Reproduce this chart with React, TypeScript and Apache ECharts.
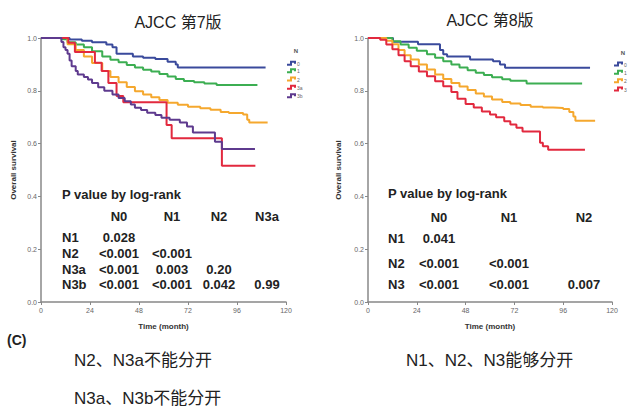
import React, { useEffect, useRef } from "react";
import * as echarts from "echarts";

// ---------- DATA ----------
const timeTicks = [0, 24, 48, 72, 96, 120];
const survTicks = [0, 0.2, 0.4, 0.6, 0.8, 1.0];

// AJCC 7th edition, N categories
const groups7 = ["0", "1", "2", "3a", "3b"];
const n0_7: [number, number][] = [[0,1],[13,1],[14,0.994],[20,0.99],[25,0.984],[32,0.975],[35,0.965],[37,0.94],[45,0.93],[50,0.925],[56,0.92],[62,0.91],[66,0.9],[67,0.888],[110,0.888]];
const n1_7: [number, number][] = [[0,1],[7,1],[10,0.995],[13,0.984],[17,0.975],[21,0.965],[25,0.95],[30,0.93],[34,0.918],[38,0.908],[42,0.898],[46,0.888],[50,0.88],[54,0.873],[58,0.864],[62,0.854],[66,0.845],[70,0.837],[75,0.832],[80,0.828],[86,0.822],[106,0.822]];
const n2_7: [number, number][] = [[0,1],[7,1],[13,0.976],[17,0.955],[21,0.93],[25,0.905],[30,0.875],[34,0.852],[38,0.832],[42,0.814],[46,0.798],[50,0.786],[54,0.776],[58,0.765],[62,0.755],[67,0.747],[72,0.74],[78,0.734],[83,0.728],[88,0.72],[92,0.716],[99,0.71],[101,0.69],[102,0.68],[111,0.68]];
const n3a_7: [number, number][] = [[0,1],[13.4,0.982],[16.6,0.947],[26.4,0.906],[29.7,0.875],[33,0.83],[37,0.78],[40.3,0.757],[61.5,0.67],[64,0.62],[88.6,0.516],[105,0.516]];
const n3b_7: [number, number][] = [[0,1],[9,1],[10,0.985],[11,0.965],[12,0.955],[13,0.94],[14,0.915],[15,0.893],[17,0.875],[18,0.862],[21,0.852],[23,0.843],[25,0.83],[28,0.813],[31,0.8],[35,0.786],[38,0.773],[41,0.76],[44,0.748],[46,0.736],[49,0.727],[52,0.717],[56,0.708],[59,0.698],[63,0.69],[68,0.68],[71.5,0.665],[74.4,0.642],[85.2,0.607],[88.6,0.58],[104.8,0.58]];

// AJCC 8th edition, N categories
const groups8 = ["0", "1", "2", "3"];
const n0_8: [number, number][] = [[0,1],[12.3,0.986],[24.6,0.976],[35.4,0.955],[37,0.938],[38.9,0.93],[50.2,0.919],[61.5,0.912],[64.9,0.9],[67.4,0.887],[109.2,0.887]];
const n1_8: [number, number][] = [[0,1],[8,1],[12,0.988],[16,0.975],[20,0.963],[24,0.952],[29,0.938],[33,0.925],[37,0.912],[41,0.9],[45,0.888],[49,0.878],[53,0.868],[57,0.86],[61,0.851],[66,0.844],[70,0.838],[78,0.828],[105.3,0.828]];
const n2_8: [number, number][] = [[0,1],[6,1],[9,0.99],[12,0.976],[15,0.955],[18,0.935],[21,0.919],[25,0.9],[29,0.881],[33,0.862],[37,0.845],[41,0.83],[45,0.816],[49,0.803],[53,0.79],[57,0.778],[61,0.767],[66,0.758],[70,0.752],[75,0.746],[80,0.74],[86,0.737],[91,0.735],[96,0.731],[99,0.72],[101,0.703],[102,0.687],[111.7,0.687]];
const n3_8: [number, number][] = [[0,1],[4,1],[6,0.993],[9,0.975],[12,0.957],[15,0.935],[18,0.912],[21,0.893],[25,0.873],[29,0.855],[33,0.836],[37,0.817],[41,0.795],[44,0.77],[48,0.75],[52,0.737],[56,0.722],[60,0.71],[63,0.7],[67,0.685],[70,0.672],[73,0.66],[76,0.646],[84.6,0.603],[86,0.59],[88.6,0.577],[106.7,0.577]];

// Log-rank p-value tables
const pCols7 = ["N0", "N1", "N2", "N3a"];
const pRows7 = ["N1", "N2", "N3a", "N3b"];
const pVals7 = [["0.028"], ["<0.001", "<0.001"], ["<0.001", "0.003", "0.20"], ["<0.001", "<0.001", "0.042", "0.99"]];
const pCols8 = ["N0", "N1", "N2"];
const pRows8 = ["N1", "N2", "N3"];
const pVals8 = [["0.041"], ["<0.001", "<0.001"], ["<0.001", "<0.001", "0.007"]];

const titles = ["AJCC 第7版", "AJCC 第8版"];
const notes7 = ["N2、N3a不能分开", "N3a、N3b不能分开"];
const notes8 = ["N1、N2、N3能够分开"];

// ---------- STYLE / LAYOUT ----------
const C = { blue: "#3a4a9c", green: "#3cae52", orange: "#f5a82e", red: "#e2293e", purple: "#5e3a8e" };
const colors7 = [C.blue, C.green, C.orange, C.red, C.purple];
const colors8 = [C.blue, C.green, C.orange, C.red];
const TXT = "#222";
const LAT = "'Liberation Sans', Arial, sans-serif";
const CJK = "'Liberation Sans', 'Noto Sans CJK SC', sans-serif";

const gridTop = 38;
const gridH = 264;

export default function App() {
  const ref = useRef<HTMLDivElement>(null);
  useEffect(() => {
    if (!ref.current) return;
    const chart = echarts.init(ref.current, null, { renderer: "svg" });

    const axisX = (gi: number) => ({
      type: "value", gridIndex: gi, min: 0, max: 120, interval: 24,
      name: "Time (month)", nameLocation: "middle", nameGap: 20,
      nameTextStyle: { fontFamily: LAT, fontSize: 8, fontWeight: "bold", color: "#333" },
      axisLine: { show: true, lineStyle: { color: "#888", width: 1.5 } },
      axisTick: { show: true, length: 3, lineStyle: { color: "#888" } },
      axisLabel: { fontFamily: LAT, fontSize: 7, color: "#666", margin: 5 },
      splitLine: { show: false },
    });
    const axisY = (gi: number, gap: number) => ({
      type: "value", gridIndex: gi, min: 0, max: 1, interval: 0.2,
      name: "Overall survival", nameLocation: "middle", nameGap: gap, nameRotate: 90,
      nameTextStyle: { fontFamily: LAT, fontSize: 8, fontWeight: "bold", color: "#333" },
      axisLine: { show: true, lineStyle: { color: "#888", width: 1.5 } },
      axisTick: { show: true, length: 3, lineStyle: { color: "#888" } },
      axisLabel: { fontFamily: LAT, fontSize: 7, color: "#666", margin: 4, formatter: (v: number) => v.toFixed(1) },
      splitLine: { show: false },
    });

    const mk = (data: [number, number][], color: string, idx: number, name: string) => ({
      type: "line", name, step: "end", xAxisIndex: idx, yAxisIndex: idx, data,
      symbol: "none", lineStyle: { color, width: 2 }, itemStyle: { color }, z: 3,
    });

    const series7 = [n0_7, n1_7, n2_7, n3a_7, n3b_7].map((d, i) => mk(d, colors7[i], 0, "7-" + groups7[i]));
    const series8 = [n0_8, n1_8, n2_8, n3_8].map((d, i) => mk(d, colors8[i], 1, "8-" + groups8[i]));

    const graphics: any[] = [];
    const txt = (x: number, y: number, text: string, opts: any = {}) =>
      graphics.push({
        type: "text", x, y, silent: true,
        style: {
          text, fontFamily: opts.family || LAT, fontSize: opts.size || 13,
          fontWeight: opts.weight || "bold", fill: opts.color || TXT,
          textAlign: opts.align || "left", textVerticalAlign: "middle",
        },
      });

    // legends
    const legend = (x: number, yN: number, ys: number[], labels: string[], cols: string[]) => {
      txt(x + 9, yN, "N", { size: 6, color: "#555", align: "center" });
      labels.forEach((l, i) => {
        const y = ys[i];
        graphics.push({
          type: "polyline", silent: true,
          shape: { points: [[x, y + 1.5], [x + 4, y + 1.5], [x + 4, y - 1.5], [x + 8, y - 1.5], [x + 8, y + 0.5]] },
          style: { stroke: cols[i], lineWidth: 2, fill: null },
        });
        txt(x + 10, y + 0.5, l, { size: 5, color: "#666", weight: "normal" });
      });
    };
    legend(287, 51, [63.3, 70.7, 79, 87.3, 95.7], groups7, colors7);
    legend(614, 53, [64, 72.3, 80.7, 89], groups8, colors8);

    // p-value tables
    txt(62, 194, "P value by log-rank");
    const colX7 = [119, 172, 219, 267];
    const rowY7 = [237, 253, 269, 284];
    pCols7.forEach((c, j) => txt(colX7[j], 216, c, { align: "center" }));
    pRows7.forEach((r, i) => {
      txt(62, rowY7[i], r);
      pVals7[i].forEach((v, j) => txt(colX7[j], rowY7[i], v, { align: "center" }));
    });

    txt(388, 193, "P value by log-rank");
    const colX8 = [439, 509, 584];
    const rowY8 = [238, 263, 284];
    pCols8.forEach((c, j) => txt(colX8[j], 217, c, { align: "center" }));
    pRows8.forEach((r, i) => {
      txt(388, rowY8[i], r);
      pVals8[i].forEach((v, j) => txt(colX8[j], rowY8[i], v, { align: "center" }));
    });

    // bottom notes
    txt(7, 340, "(C)", { size: 14 });
    txt(74, 360, notes7[0], { size: 17, weight: "normal", family: CJK });
    txt(74, 398, notes7[1], { size: 17, weight: "normal", family: CJK });
    txt(406, 360, notes8[0], { size: 17, weight: "normal", family: CJK });

    // titles
    txt(178, 22, titles[0], { size: 16, weight: "normal", family: CJK, align: "center" });
    txt(490, 20, titles[1], { size: 16, weight: "normal", family: CJK, align: "center" });

    chart.setOption({
      animation: false,
      backgroundColor: "#fff",
      grid: [
        { left: 41, top: gridTop, width: 245, height: gridH, containLabel: false },
        { left: 368, top: gridTop, width: 244, height: gridH, containLabel: false },
      ],
      xAxis: [axisX(0), axisX(1)],
      yAxis: [axisY(0, 24), axisY(1, 26)],
      series: [...series7, ...series8],
      graphic: graphics,
    });
    return () => chart.dispose();
  }, []);
  return <div ref={ref} style={{ position: "fixed", left: 0, top: 0, width: 640, height: 413 }} />;
}

void timeTicks;
void survTicks;
